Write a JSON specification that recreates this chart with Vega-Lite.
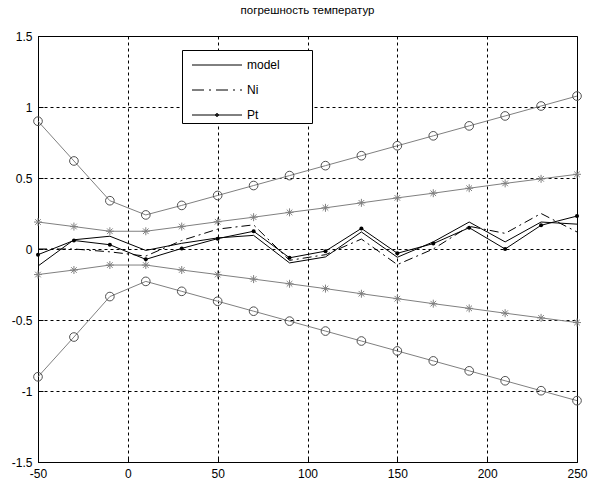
{
  "$schema": "https://vega.github.io/schema/vega-lite/v6.json",
  "width": 539,
  "height": 426,
  "autosize": {"type": "none"},
  "padding": {"left": 38, "top": 36, "right": 12, "bottom": 30},
  "background": "white",
  "title": {"text": "погрешность температур", "fontSize": 11.5, "font": "Liberation Sans", "fontWeight": "normal", "color": "black", "offset": 14, "anchor": "middle"},
  "config": {
    "view": {"stroke": "black", "strokeWidth": 1},
    "axis": {"domainColor": "black", "grid": true, "gridColor": "black", "gridDash": [3, 3], "gridOpacity": 1, "gridWidth": 1, "ticks": true, "tickSize": -5, "tickColor": "black", "tickWidth": 1, "labelFont": "Liberation Sans", "labelFontSize": 12, "labelColor": "black", "labelPadding": 11, "labelFlush": false}
  },
  "datasets": {
    "d": [
      {"t": -50, "cU": 0.9, "cL": -0.9, "aU": 0.19, "aL": -0.18, "model": -0.12, "Ni": 0.0, "Pt": -0.04},
      {"t": -30, "cU": 0.62, "cL": -0.62, "aU": 0.158, "aL": -0.148, "model": 0.065, "Ni": 0.0, "Pt": 0.06},
      {"t": -10, "cU": 0.34, "cL": -0.335, "aU": 0.125, "aL": -0.113, "model": 0.09, "Ni": -0.02, "Pt": 0.03},
      {"t": 10, "cU": 0.24, "cL": -0.228, "aU": 0.125, "aL": -0.113, "model": -0.01, "Ni": -0.05, "Pt": -0.073},
      {"t": 30, "cU": 0.307, "cL": -0.298, "aU": 0.158, "aL": -0.148, "model": 0.04, "Ni": 0.06, "Pt": 0.004},
      {"t": 50, "cU": 0.377, "cL": -0.368, "aU": 0.192, "aL": -0.18, "model": 0.078, "Ni": 0.14, "Pt": 0.073},
      {"t": 70, "cU": 0.447, "cL": -0.438, "aU": 0.224, "aL": -0.212, "model": 0.096, "Ni": 0.17, "Pt": 0.125},
      {"t": 90, "cU": 0.517, "cL": -0.508, "aU": 0.258, "aL": -0.245, "model": -0.098, "Ni": -0.08, "Pt": -0.062},
      {"t": 110, "cU": 0.587, "cL": -0.578, "aU": 0.29, "aL": -0.279, "model": -0.056, "Ni": -0.04, "Pt": -0.015},
      {"t": 130, "cU": 0.657, "cL": -0.648, "aU": 0.325, "aL": -0.315, "model": 0.12, "Ni": 0.07, "Pt": 0.145},
      {"t": 150, "cU": 0.727, "cL": -0.718, "aU": 0.36, "aL": -0.35, "model": -0.058, "Ni": -0.11, "Pt": -0.03},
      {"t": 170, "cU": 0.797, "cL": -0.788, "aU": 0.393, "aL": -0.385, "model": 0.05, "Ni": 0.0, "Pt": 0.038},
      {"t": 190, "cU": 0.867, "cL": -0.858, "aU": 0.428, "aL": -0.418, "model": 0.19, "Ni": 0.16, "Pt": 0.15},
      {"t": 210, "cU": 0.937, "cL": -0.928, "aU": 0.462, "aL": -0.452, "model": 0.05, "Ni": 0.11, "Pt": 0.0},
      {"t": 230, "cU": 1.007, "cL": -0.998, "aU": 0.494, "aL": -0.485, "model": 0.19, "Ni": 0.25, "Pt": 0.167},
      {"t": 250, "cU": 1.077, "cL": -1.068, "aU": 0.526, "aL": -0.518, "model": 0.175, "Ni": 0.12, "Pt": 0.232}
    ]
  },
  "data": {"name": "d"},
  "transform": [{"fold": ["cU", "cL", "aU", "aL", "model", "Ni", "Pt"], "as": ["s", "v"]}],
  "encoding": {
    "x": {"field": "t", "type": "quantitative", "scale": {"domain": [-50, 250], "nice": false, "zero": false}, "axis": {"title": null, "values": [-50, 0, 50, 100, 150, 200, 250], "labelExpr": "toString(datum.value)"}},
    "y": {"field": "v", "type": "quantitative", "scale": {"domain": [-1.5, 1.5], "nice": false, "zero": false}, "axis": {"title": null, "values": [-1.5, -1, -0.5, 0, 0.5, 1, 1.5], "labelExpr": "toString(datum.value)"}}
  },
  "layer": [
    {
      "transform": [{"filter": {"field": "s", "oneOf": ["cU", "cL", "aU", "aL"]}}],
      "mark": {"type": "line", "color": "#808080", "strokeWidth": 1},
      "encoding": {"detail": {"field": "s", "type": "nominal"}}
    },
    {
      "transform": [{"filter": {"field": "s", "oneOf": ["cU", "cL"]}}],
      "mark": {"type": "point", "shape": "circle", "size": 75, "filled": false, "stroke": "#505050", "strokeWidth": 1, "opacity": 1}
    },
    {
      "transform": [{"filter": {"field": "s", "oneOf": ["aU", "aL"]}}],
      "mark": {"type": "point", "shape": "M-1,0L1,0M0,-1L0,1M-0.7,-0.7L0.7,0.7M-0.7,0.7L0.7,-0.7", "size": 64, "filled": false, "stroke": "#808080", "strokeWidth": 1, "opacity": 1}
    },
    {
      "transform": [{"filter": {"field": "s", "equal": "model"}}],
      "mark": {"type": "line", "color": "black", "strokeWidth": 1}
    },
    {
      "transform": [{"filter": {"field": "s", "equal": "Ni"}}],
      "mark": {"type": "line", "color": "black", "strokeWidth": 1, "strokeDash": [9, 4, 2, 4]}
    },
    {
      "transform": [{"filter": {"field": "s", "equal": "Pt"}}],
      "mark": {"type": "line", "color": "black", "strokeWidth": 1, "point": {"filled": true, "size": 16, "color": "black", "opacity": 1}}
    },
    {
      "transform": [{"filter": {"field": "s", "oneOf": ["model", "Ni", "Pt"]}}],
      "mark": {"type": "point", "filled": false, "color": "black", "strokeWidth": 1, "size": 625, "opacity": 0},
      "encoding": {
        "shape": {
          "field": "s", "type": "nominal",
          "scale": {"domain": ["model", "Ni", "Pt"], "range": ["M-2,0L2,0", "M-2,0L-1.04,0M-0.64,0L-0.48,0M-0.08,0L0.88,0M1.28,0L1.44,0M1.84,0L2,0", "M-2,0L2,0M0.12,0A0.12,0.12 0 1 1 -0.12,0A0.12,0.12 0 1 1 0.12,0ZM0.06,0A0.06,0.06 0 1 1 -0.06,0A0.06,0.06 0 1 1 0.06,0Z"]},
          "legend": {"title": null, "orient": "none", "legendX": 144, "legendY": 14, "symbolSize": 625, "rowPadding": 6, "padding": 2, "symbolOffset": 20, "labelOffset": 17, "strokeColor": "black", "fillColor": "white", "symbolStrokeColor": "black", "symbolStrokeWidth": 1, "symbolOpacity": 1, "labelFontSize": 12, "labelFont": "Liberation Sans", "labelColor": "black", "labelExpr": "datum.label + '\u00a0\u00a0\u00a0\u00a0\u00a0\u00a0\u00a0\u00a0\u00a0\u200b'", "cornerRadius": 0}
        }
      }
    }
  ]
}
